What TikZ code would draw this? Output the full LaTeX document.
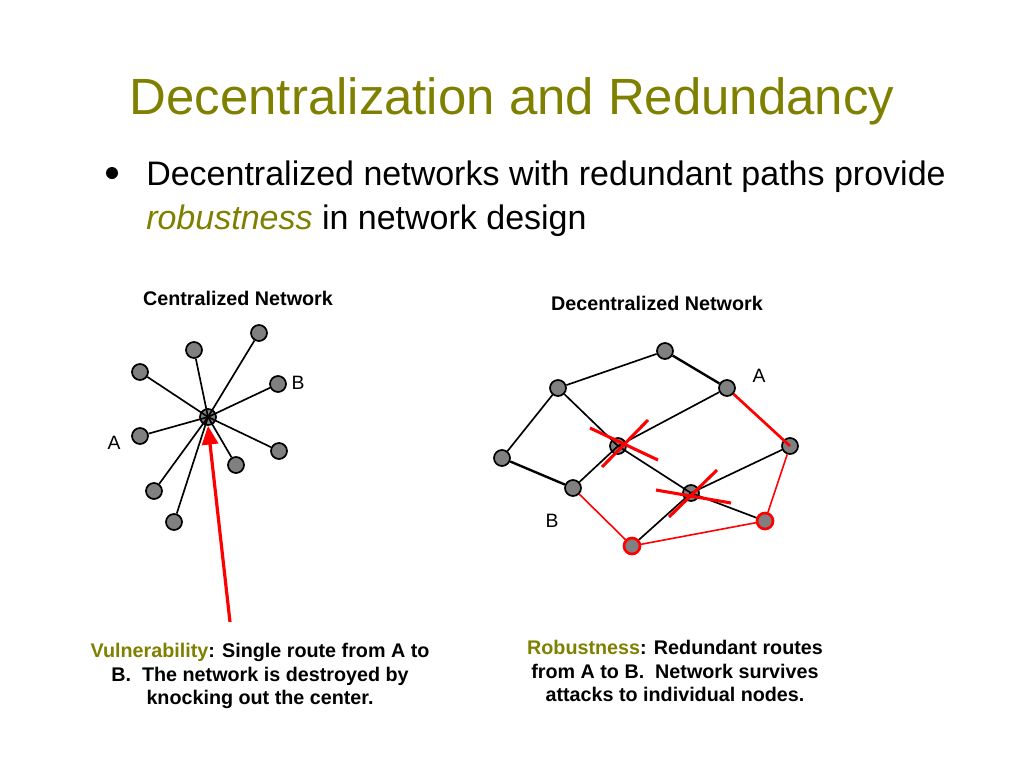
\documentclass[tikz,border=0pt]{standalone}
\usepackage{fontspec}
\setmainfont{Liberation Sans}
\usetikzlibrary{arrows.meta,positioning}
\definecolor{titleolive}{RGB}{128,128,0}

\tikzset{
  dot/.style={circle, draw=black, fill=gray, line width=1.3pt, minimum size=12pt, inner sep=0pt},
  hitdot/.style={dot, draw=red, line width=2pt},
  link/.style={draw=black, line width=1.25pt},
  thicklink/.style={draw=black, line width=1.8pt},
  redlink/.style={draw=red, line width=1.2pt},
  thickred/.style={draw=red, line width=2pt},
  slash/.style={draw=red, line width=2.3pt},
  lbl/.style={font=\fontsize{14.5}{17}\selectfont, inner sep=0pt},
  heading/.style={font=\bfseries\fontsize{14.8}{17}\selectfont, inner sep=0pt},
  note/.style={font=\bfseries\fontsize{14.8}{17.6}\selectfont, align=center, inner sep=0pt},
}

\begin{document}
\begin{tikzpicture}[x=0.75pt, y=-0.75pt]
	\fill[white] (0,0) rectangle (1024,768);
	\useasboundingbox (0,0) rectangle (1024,768);

	% title and bullet
	\node[anchor=base, text=titleolive, font=\fontsize{38.2}{46}\selectfont] (title) at (512,114) {Decentralization and Redundancy};
	\node[circle, fill=black, minimum size=9pt, inner sep=0pt] (bullet) at (112,173) {};
	\node[anchor=base west, font=\fontsize{25.5}{30}\selectfont, inner sep=0pt] (body1) at (146,185) {Decentralized networks with redundant paths provide};
	\node[anchor=base west, font=\fontsize{25.5}{30}\selectfont, inner sep=0pt] (body2) at (146,229) {{\color{titleolive}\itshape robustness} in network design};

	% centralized network
	\node[heading] (chead) at (238,298) {Centralized Network};
	\node[dot] (c)  at (208,417) {};
	\node[dot] (c1) at (140,372) {};
	\node[dot] (c2) at (194,350) {};
	\node[dot] (c3) at (259,333) {};
	\node[dot] (c4) at (278,384) {};
	\node[dot] (c5) at (140,436) {};
	\node[dot] (c6) at (279,451) {};
	\node[dot] (c7) at (236,465) {};
	\node[dot] (c8) at (154,491) {};
	\node[dot] (c9) at (174,522) {};
	\foreach \n in {c1,c2,c3,c4,c5,c6,c7,c8,c9}
		\draw[link] (c.center) -- (\n);
	\node[lbl] (cb) at (298,383) {B};
	\node[lbl] (ca) at (114,443) {A};

	\coordinate (tail) at (230,622);
	\draw[red, line width=2.4pt, -{Triangle[length=14pt, width=12pt]}] (tail) -- (c.south);

	% decentralized network
	\node[heading] (dhead) at (657,303) {Decentralized Network};
	\node[dot] (n1)  at (665,351) {};
	\node[dot] (n2)  at (558,388) {};
	\node[dot] (n3)  at (727,388) {};
	\node[dot] (n4)  at (618,446) {};
	\node[dot] (n5)  at (790,446) {};
	\node[dot] (n6)  at (502,458) {};
	\node[dot] (n7)  at (573,488) {};
	\node[dot] (n8)  at (691,493) {};
	\node[hitdot] (n9)  at (765,521) {};
	\node[hitdot] (n10) at (632,546) {};

	\draw[link] (n1) -- (n2);
	\draw[thicklink] (n1) -- (n3);
	\draw[link] (n2) -- (n6);
	\draw[thicklink] (n6) -- (n7);
	\draw[link] (n2) -- (n4.center) -- (n8.center) -- (n9);
	\draw[link] (n4.center) -- (n3);
	\draw[link] (n4.center) -- (n7);
	\draw[link] (n8.center) -- (n5);
	\draw[link] (n8.center) -- (n10);

	\draw[thickred] (n3) -- (n5.center);
	\draw[redlink] (n5) -- (n9) -- (n10) -- (n7);

	\node[lbl] (da) at (759,376) {A};
	\node[lbl] (db) at (552,521) {B};

	% knocked out nodes
	\draw[slash] (590,428) -- (658,460);
	\draw[slash] (602,467) -- (648,420);
	\draw[slash] (656,490) -- (731,503);
	\draw[slash] (669,517) -- (717,470);

	% notes
	\node[note, anchor=north] (vnote) at (260,643) {{\color{titleolive}Vulnerability}: Single route from A to\\B.\ \ The network is destroyed by\\knocking out the center.};
	\node[note, anchor=north] (rnote) at (675,640) {{\color{titleolive}Robustness}: Redundant routes\\from A to B.\ \ Network survives\\attacks to individual nodes.};
\end{tikzpicture}
\end{document}
